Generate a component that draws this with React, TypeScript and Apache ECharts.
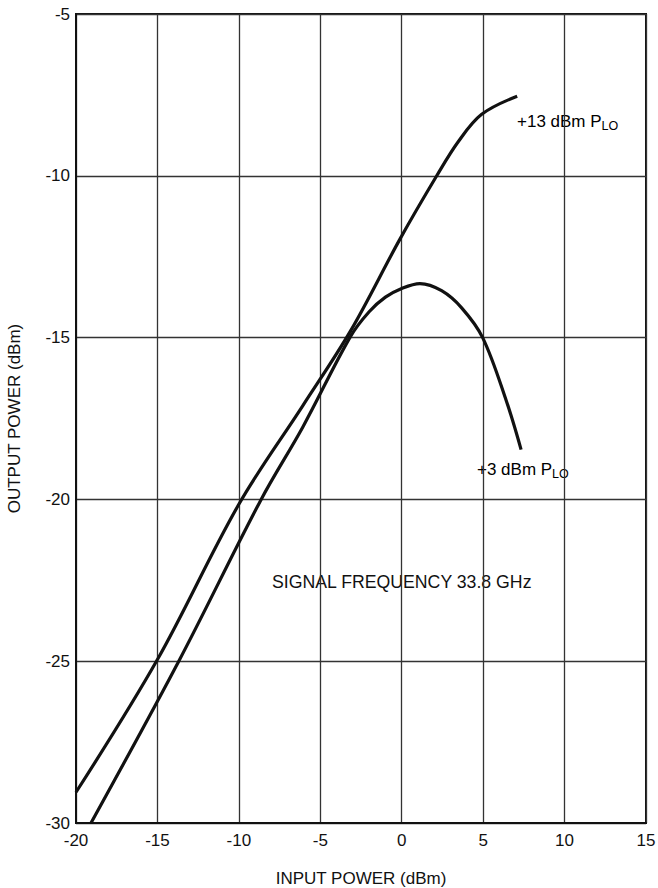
import React, { useEffect, useRef } from "react";
import * as echarts from "echarts";

const xTicks = [-20, -15, -10, -5, 0, 5, 10, 15];
const yTicks = [-30, -25, -20, -15, -10, -5];

// +13 dBm LO power curve (input dBm, output dBm)
const ploHighIn = [-20, -15, -10, -6.07, -3.15, -0.1, 2.15, 3.48, 4.91, 7.09];
const ploHighOut = [-29.05, -24.95, -20.15, -17.1, -14.8, -11.95, -10.0, -8.94, -8.1, -7.54];

// +3 dBm LO power curve
const ploLowIn = [-19.08, -13.69, -8.63, -6.07, -3.15, -2.0, -1.0, 0, 1.12, 2.45, 3.68, 4.97, 6.42, 7.33];
const ploLowOut = [-30, -25, -20, -17.76, -14.97, -14.2, -13.75, -13.48, -13.33, -13.55, -14.08, -15.0, -16.95, -18.46];

const highLabel = "+13 dBm P";
const lowLabel = "+3 dBm P";
const subscript = "LO";
const annotation = "SIGNAL FREQUENCY 33.8 GHz";
const xTitle = "INPUT POWER (dBm)";
const yTitle = "OUTPUT POWER (dBm)";

const FONT = "Liberation Sans, Arial, Helvetica, sans-serif";
const INK = "#111111";

export default function App() {
  const ref = useRef<HTMLDivElement>(null);

  useEffect(() => {
    document.body.style.margin = "0";
    const chart = echarts.init(ref.current!, null, { renderer: "svg" });
    const high = ploHighIn.map((x, i) => [x, ploHighOut[i]]);
    const low = ploLowIn.map((x, i) => [x, ploLowOut[i]]);

    const rich = {
      a: { fontSize: 17, fontFamily: FONT, color: INK, lineHeight: 22, verticalAlign: "middle" },
      b: { fontSize: 12.5, fontFamily: FONT, color: INK, lineHeight: 12, verticalAlign: "bottom" },
    };

    chart.setOption({
      animation: false,
      backgroundColor: "#ffffff",
      grid: {
        left: 76,
        right: 12,
        top: 14,
        bottom: 65,
        outerBoundsMode: "none",
        containLabel: false,
        show: true,
        borderColor: INK,
        borderWidth: 2,
        backgroundColor: "transparent",
      },
      xAxis: {
        type: "value",
        min: xTicks[0],
        max: xTicks[xTicks.length - 1],
        interval: 5,
        name: xTitle,
        nameLocation: "middle",
        nameGap: 47,
        nameTextStyle: { fontFamily: FONT, fontSize: 17, color: INK },
        axisLine: { show: true, onZero: false, lineStyle: { color: INK, width: 2 } },
        axisTick: { show: false },
        axisLabel: { fontFamily: FONT, fontSize: 17, color: INK, margin: 9 },
        splitLine: { show: true, lineStyle: { color: "#333333", width: 1.3 } },
      },
      yAxis: {
        type: "value",
        min: yTicks[0],
        max: yTicks[yTicks.length - 1],
        interval: 5,
        name: yTitle,
        nameLocation: "middle",
        nameGap: 53,
        nameTextStyle: { fontFamily: FONT, fontSize: 17, color: INK },
        axisLine: { show: true, onZero: false, lineStyle: { color: INK, width: 2 } },
        axisTick: { show: false },
        axisLabel: { fontFamily: FONT, fontSize: 17, color: INK, margin: 6 },
        splitLine: { show: true, lineStyle: { color: "#333333", width: 1.3 } },
      },
      series: [
        {
          name: highLabel + subscript,
          type: "line",
          data: high,
          smooth: 0.35,
          showSymbol: false,
          lineStyle: { color: INK, width: 3.2 },
          z: 5,
        },
        {
          name: lowLabel + subscript,
          type: "line",
          data: low,
          smooth: 0.35,
          showSymbol: false,
          lineStyle: { color: INK, width: 3.2 },
          z: 5,
        },
      ],
      graphic: [
        {
          type: "text",
          left: 517,
          top: 113,
          style: { text: `{a|${highLabel}}{b|${subscript}}`, rich },
        },
        {
          type: "text",
          left: 477,
          top: 461,
          style: { text: `{a|${lowLabel}}{b|${subscript}}`, rich },
        },
        {
          type: "text",
          left: 272,
          top: 573,
          style: { text: annotation, fontFamily: FONT, fontSize: 17.7, fill: INK },
        },
      ],
    });
    return () => chart.dispose();
  }, []);

  return <div ref={ref} style={{ width: 658, height: 888 }} />;
}
